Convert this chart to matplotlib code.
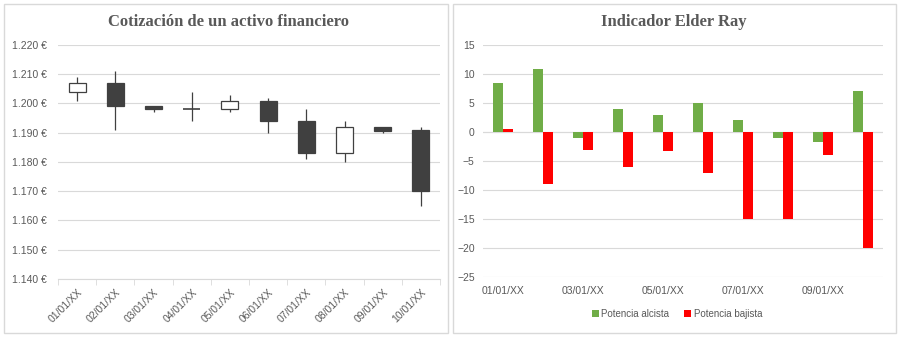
import matplotlib.pyplot as plt
from matplotlib.patches import Rectangle
import matplotlib.ticker as ticker

dates = ["01/01/XX", "02/01/XX", "03/01/XX", "04/01/XX", "05/01/XX",
         "06/01/XX", "07/01/XX", "08/01/XX", "09/01/XX", "10/01/XX"]
opens = [1.204, 1.207, 1.199, 1.198, 1.198, 1.201, 1.194, 1.183, 1.192, 1.191]
closes = [1.207, 1.199, 1.198, 1.198, 1.201, 1.194, 1.183, 1.192, 1.1905, 1.170]
highs = [1.209, 1.211, 1.199, 1.204, 1.203, 1.202, 1.198, 1.194, 1.192, 1.192]
lows = [1.201, 1.191, 1.197, 1.194, 1.197, 1.190, 1.181, 1.180, 1.190, 1.165]

bull_power = [8.5, 10.9, -1, 4, 3, 5, 2, -1, -1.7, 7]
bear_power = [0.5, -9, -3, -6, -3.2, -7, -15, -15, -4, -20]

text_gray = "#595959"
grid_gray = "#d9d9d9"
plt.rcParams['font.family'] = ['Liberation Sans', 'DejaVu Sans']

dpi = 100
fig = plt.figure(figsize=(900 / dpi, 338 / dpi), dpi=dpi)

# panel frames
for x0, x1 in [(4, 448), (453, 896)]:
    fig.patches.append(Rectangle((x0 / 900, 1 - 333 / 338), (x1 - x0) / 900, 329 / 338,
                                 transform=fig.transFigure, fill=False,
                                 edgecolor=grid_gray, lw=1))

# --- candlestick chart ---
ax = fig.add_axes([58 / 900, 1 - 279 / 338, 382 / 900, 234 / 338])
ax.set_ylim(1.14, 1.22)
ax.set_xlim(-0.5, len(dates) - 0.5)
ax.yaxis.set_major_locator(ticker.MultipleLocator(0.01))
ax.yaxis.set_major_formatter(ticker.FuncFormatter(lambda v, p: f"{v:.3f} €"))
ax.grid(axis="y", color=grid_gray, lw=0.8)
ax.set_axisbelow(True)
for s in ["top", "right", "left"]:
    ax.spines[s].set_visible(False)
ax.spines["bottom"].set_color(grid_gray)
ax.tick_params(axis="y", length=0, labelsize=7.5, labelcolor=text_gray, pad=8)
ax.set_xticks(range(len(dates)))
ax.set_xticklabels(dates, rotation=45, ha="right", rotation_mode="anchor")
ax.tick_params(axis="x", which="major", length=0, labelsize=7.5,
               labelcolor=text_gray, pad=6)
ax.set_xticks([i - 0.5 for i in range(len(dates) + 1)], minor=True)
ax.tick_params(axis="x", which="minor", length=4, color=grid_gray)

body_w = 0.44
for i in range(len(dates)):
    ax.vlines(i, lows[i], highs[i], color="#404040", lw=0.9, zorder=2)
    lo = min(opens[i], closes[i])
    h = abs(closes[i] - opens[i])
    up = closes[i] >= opens[i]
    if h == 0:
        ax.hlines(opens[i], i - body_w / 2, i + body_w / 2, color="#404040", lw=1.2, zorder=3)
    else:
        ax.add_patch(Rectangle((i - body_w / 2, lo), body_w, h,
                               facecolor="white" if up else "#404040",
                               edgecolor="#404040", lw=0.9, zorder=3))
fig.text(228 / 900, 1 - 22 / 338, "Cotización de un activo financiero",
         ha="center", va="center", fontsize=12, fontweight="bold",
         color=text_gray, family="Liberation Serif")

# --- Elder Ray chart ---
ax2 = fig.add_axes([483 / 900, 1 - 277.3 / 338, 400 / 900, 232.3 / 338])
ax2.set_ylim(-25, 15)
ax2.set_xlim(-0.5, len(dates) - 0.5)
ax2.yaxis.set_major_locator(ticker.MultipleLocator(5))
ax2.grid(axis="y", color=grid_gray, lw=0.8)
ax2.set_axisbelow(True)
for s in ax2.spines.values():
    s.set_visible(False)
ax2.tick_params(axis="y", length=0, labelsize=7.5, labelcolor=text_gray, pad=6)
idx = list(range(len(dates)))
bw = 0.24
ax2.bar([i - bw / 2 for i in idx], bull_power, width=bw, color="#70ad47",
        label="Potencia alcista", zorder=2)
ax2.bar([i + bw / 2 for i in idx], bear_power, width=bw, color="#ff0000",
        label="Potencia bajista", zorder=2)
ax2.axhline(0, color=grid_gray, lw=0.8, zorder=1)
ax2.set_xticks(idx[::2])
ax2.set_xticklabels(dates[::2])
ax2.tick_params(axis="x", length=0, labelsize=7.5, labelcolor=text_gray, pad=6)
ax2.legend(loc="center", bbox_to_anchor=(677 / 900, 1 - 314 / 338),
           bbox_transform=fig.transFigure, ncol=2, frameon=False,
           fontsize=7, labelcolor=text_gray, handlelength=0.7, handleheight=0.7,
           handletextpad=0.3, columnspacing=1.5)
fig.text(674 / 900, 1 - 22 / 338, "Indicador Elder Ray",
         ha="center", va="center", fontsize=12, fontweight="bold",
         color=text_gray, family="Liberation Serif")

fig.savefig("out.png", dpi=dpi)
